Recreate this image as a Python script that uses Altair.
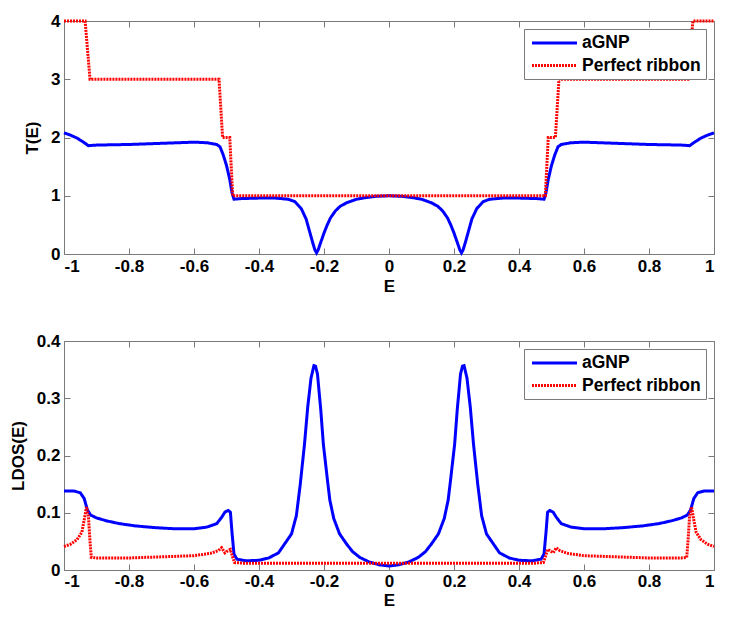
import altair as alt
import pandas as pd

SERIES = ["aGNP", "Perfect ribbon"]
COLORS = ["#0000ff", "#ff0000"]
X_TICKS = [-1, -0.8, -0.6, -0.4, -0.2, 0, 0.2, 0.4, 0.6, 0.8, 1]
T_TICKS = [0, 1, 2, 3, 4]
L_TICKS = [0, 0.1, 0.2, 0.3, 0.4]

# ---- T(E), aGNP ----
E_T_AGNP = [-1.00, -0.98, -0.96, -0.94, -0.925, -0.90, -0.80, -0.70, -0.60, -0.56,
            -0.53, -0.52, -0.51, -0.50, -0.49, -0.483, -0.477, -0.46, -0.40, -0.35,
            -0.31, -0.29, -0.27, -0.255, -0.245, -0.235, -0.228, -0.223, -0.218, -0.21,
            -0.20, -0.19, -0.18, -0.165, -0.15, -0.13, -0.10, -0.07, -0.04, 0.00,
            0.04, 0.07, 0.10, 0.13, 0.15, 0.165, 0.18, 0.19, 0.20,
            0.21, 0.218, 0.223, 0.228, 0.235, 0.245, 0.255, 0.27, 0.29, 0.31,
            0.35, 0.40, 0.46, 0.477, 0.483, 0.49, 0.50, 0.51, 0.52, 0.53,
            0.56, 0.60, 0.70, 0.80, 0.90, 0.925, 0.94, 0.96, 0.98, 1.00]
T_AGNP = [2.08, 2.04, 1.99, 1.92, 1.86, 1.87, 1.88, 1.90, 1.92, 1.91,
          1.88, 1.84, 1.70, 1.52, 1.28, 1.05, 0.94, 0.95, 0.96, 0.96,
          0.94, 0.90, 0.78, 0.60, 0.40, 0.20, 0.07, 0.02, 0.07, 0.20,
          0.36, 0.50, 0.62, 0.74, 0.82, 0.88, 0.94, 0.97, 0.99, 1.00,
          0.99, 0.97, 0.94, 0.88, 0.82, 0.74, 0.62, 0.50, 0.36,
          0.20, 0.07, 0.02, 0.07, 0.20, 0.40, 0.60, 0.78, 0.90, 0.94,
          0.96, 0.96, 0.95, 0.94, 1.05, 1.28, 1.52, 1.70, 1.84, 1.88,
          1.91, 1.92, 1.90, 1.88, 1.87, 1.86, 1.92, 1.99, 2.04, 2.08]

# ---- T(E), perfect ribbon ----
E_T_RIB = [-1.0, -0.935, -0.92, -0.523, -0.512, -0.49, -0.481,
           0.481, 0.49, 0.512, 0.523, 0.92, 0.935, 1.0]
T_RIB = [4, 4, 3, 3, 2, 2, 1, 1, 2, 2, 3, 3, 4, 4]

# ---- LDOS(E), aGNP ----
E_L_AGNP = [-1.00, -0.97, -0.95, -0.938, -0.928, -0.918, -0.90, -0.87, -0.83, -0.78,
            -0.72, -0.66, -0.60, -0.56, -0.53, -0.515, -0.505, -0.495, -0.488, -0.483,
            -0.477, -0.468, -0.44, -0.40, -0.37, -0.34, -0.30, -0.285, -0.273, -0.26,
            -0.25, -0.24, -0.231, -0.226, -0.22, -0.21, -0.202, -0.19, -0.182, -0.17,
            -0.152, -0.13, -0.112, -0.09, -0.061, -0.03, 0.00,
            0.03, 0.061, 0.09, 0.112, 0.13, 0.152,
            0.17, 0.182, 0.19, 0.202, 0.21, 0.22, 0.226, 0.231, 0.24, 0.25,
            0.26, 0.273, 0.285, 0.30, 0.34, 0.37, 0.40, 0.44, 0.468, 0.477,
            0.483, 0.488, 0.495, 0.505, 0.515, 0.53, 0.56, 0.60, 0.66, 0.72,
            0.78, 0.83, 0.87, 0.90, 0.918, 0.928, 0.938, 0.95, 0.97, 1.00]
L_AGNP = [0.138, 0.138, 0.135, 0.125, 0.105, 0.096, 0.091, 0.086, 0.081, 0.077,
          0.074, 0.072, 0.072, 0.075, 0.081, 0.092, 0.101, 0.104, 0.101, 0.065,
          0.028, 0.019, 0.016, 0.017, 0.021, 0.030, 0.063, 0.095, 0.150, 0.220,
          0.285, 0.335, 0.357, 0.356, 0.342, 0.280, 0.220, 0.160, 0.122, 0.090,
          0.063, 0.045, 0.032, 0.022, 0.014, 0.009, 0.007,
          0.009, 0.014, 0.022, 0.032, 0.045, 0.063,
          0.090, 0.122, 0.160, 0.220, 0.280, 0.342, 0.356, 0.357, 0.335, 0.285,
          0.220, 0.150, 0.095, 0.063, 0.030, 0.021, 0.017, 0.016, 0.019, 0.028,
          0.065, 0.101, 0.104, 0.101, 0.092, 0.081, 0.075, 0.072, 0.072, 0.074,
          0.077, 0.081, 0.086, 0.091, 0.096, 0.105, 0.125, 0.135, 0.138, 0.138]

# ---- LDOS(E), perfect ribbon ----
E_L_RIB = [-1.00, -0.98, -0.96, -0.945, -0.937, -0.931, -0.925, -0.92, -0.916, -0.90,
           -0.80, -0.70, -0.60, -0.55, -0.525, -0.515, -0.505, -0.495, -0.488, -0.482,
           -0.475, -0.45, 0.00, 0.45, 0.475, 0.482, 0.488, 0.495, 0.505, 0.515,
           0.525, 0.55, 0.60, 0.70, 0.80, 0.90, 0.916, 0.92, 0.925, 0.931,
           0.937, 0.945, 0.96, 0.98, 1.00]
L_RIB = [0.041, 0.045, 0.053, 0.066, 0.090, 0.110, 0.095, 0.050, 0.022, 0.021,
         0.021, 0.023, 0.025, 0.029, 0.034, 0.039, 0.030, 0.034, 0.036, 0.024,
         0.013, 0.012, 0.012, 0.012, 0.013, 0.024, 0.036, 0.034, 0.030, 0.039,
         0.034, 0.029, 0.025, 0.023, 0.021, 0.021, 0.022, 0.050, 0.095, 0.110,
         0.090, 0.066, 0.053, 0.045, 0.041]


def frame(e1, v1, e2, v2):
    a = pd.DataFrame({"E": e1, "v": v1, "series": SERIES[0], "k": 0})
    b = pd.DataFrame({"E": e2, "v": v2, "series": SERIES[1], "k": 1})
    return pd.concat([a, b], ignore_index=True)


FONT = "Liberation Sans"
GRAY = "#7a7a7a"
LABEL_EXPR = "toString(datum.value)"
PANEL_W = 650


def panel(df, y_title, y_domain, y_ticks, h, lab_pad, title_pad):
    xs = alt.Scale(domain=[-1, 1], nice=False, zero=False)
    ys = alt.Scale(domain=y_domain, nice=False, zero=False)
    leg = alt.Legend(
        title=None, orient="none", legendX=460, legendY=8,
        symbolType="M-0.8,0H5.2", symbolSize=225, symbolStrokeWidth=3,
        labelFont=FONT, labelFontSize=17.5, labelFontWeight="bold",
        labelColor="black", labelOffset=35, padding=5, rowPadding=4.5,
        strokeColor=GRAY, fillColor="white", cornerRadius=0,
    )
    lines = alt.Chart(df).mark_line(strokeWidth=3, strokeCap="butt").encode(
        x=alt.X("E:Q", scale=xs, axis=alt.Axis(
            orient="bottom", values=X_TICKS, labelExpr=LABEL_EXPR, offset=-6,
            tickSize=6, title="E", labelPadding=lab_pad, titlePadding=title_pad)),
        y=alt.Y("v:Q", scale=ys, axis=alt.Axis(
            orient="left", values=y_ticks, labelExpr=LABEL_EXPR, offset=-6,
            tickSize=6, title=y_title, labelPadding=4, titlePadding=9)),
        color=alt.Color("series:N", scale=alt.Scale(domain=SERIES, range=COLORS), legend=leg),
        strokeDash=alt.StrokeDash("series:N", scale=alt.Scale(domain=SERIES, range=[[1, 0], [2, 1]]), legend=leg),
        order=alt.Order("k:Q"),
    )
    ticks = alt.Chart(df).mark_point(opacity=0).encode(
        x=alt.X("E:Q", scale=xs, axis=alt.Axis(
            orient="top", values=X_TICKS, labels=False, offset=-6, tickSize=6, title=None)),
        y=alt.Y("v:Q", scale=ys, axis=alt.Axis(
            orient="right", values=y_ticks, labels=False, offset=-6, tickSize=6, title=None)),
    )
    return alt.layer(lines, ticks).resolve_scale(x="independent", y="independent").properties(
        width=PANEL_W, height=h)


top = panel(frame(E_T_AGNP, T_AGNP, E_T_RIB, T_RIB), "T(E)", [0, 4], T_TICKS, 233, 4, 4)
bottom = panel(frame(E_L_AGNP, L_AGNP, E_L_RIB, L_RIB), "LDOS(E)", [0, 0.4], L_TICKS, 229, 3, 3)

chart = alt.vconcat(top, bottom, spacing=36).resolve_scale(
    color="independent", strokeDash="independent"
).resolve_legend(
    color="independent", strokeDash="independent"
).properties(
    padding={"left": 0, "top": 3, "right": 0, "bottom": 0},
    background="white",
).configure_view(
    stroke=GRAY, strokeWidth=1
).configure_axis(
    grid=False, domain=False, tickColor=GRAY, tickWidth=1,
    labelFont=FONT, labelFontSize=17, labelFontWeight="bold", labelColor="black",
    titleFont=FONT, titleFontSize=17, titleFontWeight="bold", titleColor="black",
)

chart.save("out.html", embed_options={"renderer": "svg", "actions": False})
